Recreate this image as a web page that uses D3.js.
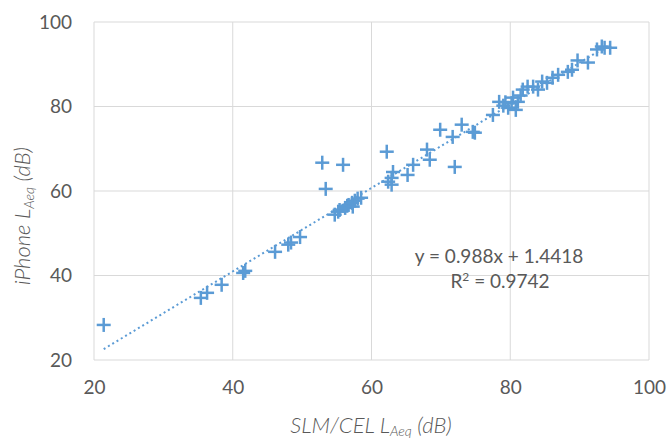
<!DOCTYPE html>
<html>
<head>
<meta charset="utf-8">
<script src="https://cdn.jsdelivr.net/npm/d3@7"></script>
<style>
  html, body { margin: 0; padding: 0; background: #fff; }
  svg { display: block; }
  text { font-family: Lato, "Open Sans", sans-serif; fill: #595959; }
</style>
</head>
<body>
<svg id="chart" width="667" height="441"></svg>
<script>
// SLM/CEL reference level (x) vs iPhone reading (y), dB
const slmLevels = [21.4, 35.4, 36.3, 38.4, 41.5, 41.8, 46.1, 48.0, 48.4, 49.7,
  52.9, 53.4, 55.9, 54.7, 55.2, 55.4, 56.2, 56.5, 56.7, 57.2, 57.3, 57.6, 58.0, 58.5,
  62.2, 62.4, 62.9, 62.9, 63.1, 65.2, 66.0, 68.0, 68.4, 69.9, 71.7, 72.0, 73.0, 74.6, 74.9,
  77.5, 78.4, 79.0, 79.7, 80.4, 80.8, 81.1, 81.8, 82.5, 83.3, 84.0, 84.6, 85.3, 86.1,
  86.9, 88.3, 88.9, 89.7, 91.2, 92.5, 93.2, 93.6, 94.4, 79.3, 80.2, 81.5];
const iphoneLevels = [28.3, 34.7, 35.9, 37.8, 40.6, 41.1, 45.6, 47.3, 47.8, 49.1,
  66.7, 60.5, 66.2, 54.4, 55.1, 55.5, 56.0, 56.5, 56.7, 57.2, 56.3, 57.7, 58.2, 58.4,
  69.3, 62.2, 63.1, 61.5, 64.5, 63.8, 66.2, 69.8, 67.4, 74.5, 72.8, 65.7, 75.7, 74.0, 73.8,
  78.0, 81.1, 80.2, 79.7, 82.1, 79.2, 81.1, 84.0, 84.7, 84.7, 84.0, 85.9, 85.6, 86.8,
  87.5, 88.2, 88.7, 90.9, 90.4, 93.5, 94.2, 93.9, 93.9, 81.0, 80.8, 82.6];
const xTicks = [20, 40, 60, 80, 100];
const yTicks = [20, 40, 60, 80, 100];
const fitSlope = 0.988;
const fitIntercept = 1.4418;
const fitLabel = "y = 0.988x + 1.4418";
const r2Label = "0.9742";

const points = slmLevels.map((x, i) => ({ x, y: iphoneLevels[i] }));

const svg = d3.select("#chart");
const plot = { left: 94, right: 649, top: 22, bottom: 360 };

const x = d3.scaleLinear().domain([20, 100]).range([plot.left, plot.right]);
const y = d3.scaleLinear().domain([20, 100]).range([plot.bottom, plot.top]);

const gridColor = "#d9d9d9";
const blue = "#5b9bd5";

// gridlines
svg.append("g").selectAll("line.v").data(xTicks).join("line")
  .attr("x1", d => x(d)).attr("x2", d => x(d))
  .attr("y1", plot.top).attr("y2", plot.bottom)
  .attr("stroke", gridColor).attr("stroke-width", 1);
svg.append("g").selectAll("line.h").data(yTicks).join("line")
  .attr("x1", plot.left).attr("x2", plot.right)
  .attr("y1", d => y(d)).attr("y2", d => y(d))
  .attr("stroke", gridColor).attr("stroke-width", 1);

// axes (labels only, lines drawn as grid)
const xAxis = svg.append("g")
  .attr("transform", `translate(0,${plot.bottom})`)
  .call(d3.axisBottom(x).tickValues(xTicks).tickSize(0).tickPadding(21));
const yAxis = svg.append("g")
  .attr("transform", `translate(${plot.left},0)`)
  .call(d3.axisLeft(y).tickValues(yTicks).tickSize(0).tickPadding(22));
[xAxis, yAxis].forEach(g => {
  g.select(".domain").remove();
  g.selectAll("text").attr("font-size", 19).attr("fill", "#595959")
    .attr("font-family", "Lato, 'Open Sans', sans-serif");
});

// trendline
const xs = d3.extent(slmLevels);
svg.append("line")
  .attr("x1", x(xs[0])).attr("y1", y(fitSlope * xs[0] + fitIntercept))
  .attr("x2", x(xs[1])).attr("y2", y(fitSlope * xs[1] + fitIntercept))
  .attr("stroke", blue).attr("stroke-width", 2)
  .attr("stroke-dasharray", "2,3").attr("stroke-linecap", "butt");

// plus markers
const half = 7;
const marks = svg.append("g").selectAll("g").data(points).join("g")
  .attr("transform", d => `translate(${x(d.x)},${y(d.y)})`);
marks.append("line").attr("x1", -half).attr("x2", half).attr("y1", 0).attr("y2", 0)
  .attr("stroke", blue).attr("stroke-width", 2.5);
marks.append("line").attr("x1", 0).attr("x2", 0).attr("y1", -half).attr("y2", half)
  .attr("stroke", blue).attr("stroke-width", 2.5);

// regression equation
svg.append("text").attr("x", 499).attr("y", 263)
  .attr("text-anchor", "middle").attr("font-size", 19).text(fitLabel);
const r2 = svg.append("text").attr("x", 500).attr("y", 288)
  .attr("text-anchor", "middle").attr("font-size", 19);
r2.append("tspan").text("R");
r2.append("tspan").attr("font-size", 12).attr("dy", -7).text("2");
r2.append("tspan").attr("dy", 7).text(" = " + r2Label);

// axis titles
const xt = svg.append("text").attr("x", 371).attr("y", 433)
  .attr("text-anchor", "middle").attr("font-size", 22).attr("font-style", "italic")
  .attr("font-weight", 300);
xt.append("tspan").text("SLM/CEL L");
xt.append("tspan").attr("font-size", 14).attr("dy", 3).text("Aeq");
xt.append("tspan").attr("dy", -3).text(" (dB)");

const yt = svg.append("text")
  .attr("transform", "translate(30,216) rotate(-90)")
  .attr("text-anchor", "middle").attr("font-size", 22).attr("font-style", "italic")
  .attr("font-weight", 300);
yt.append("tspan").text("iPhone L");
yt.append("tspan").attr("font-size", 14).attr("dy", 4).text("Aeq");
yt.append("tspan").attr("dy", -4).text(" (dB)");
</script>
</body>
</html>
